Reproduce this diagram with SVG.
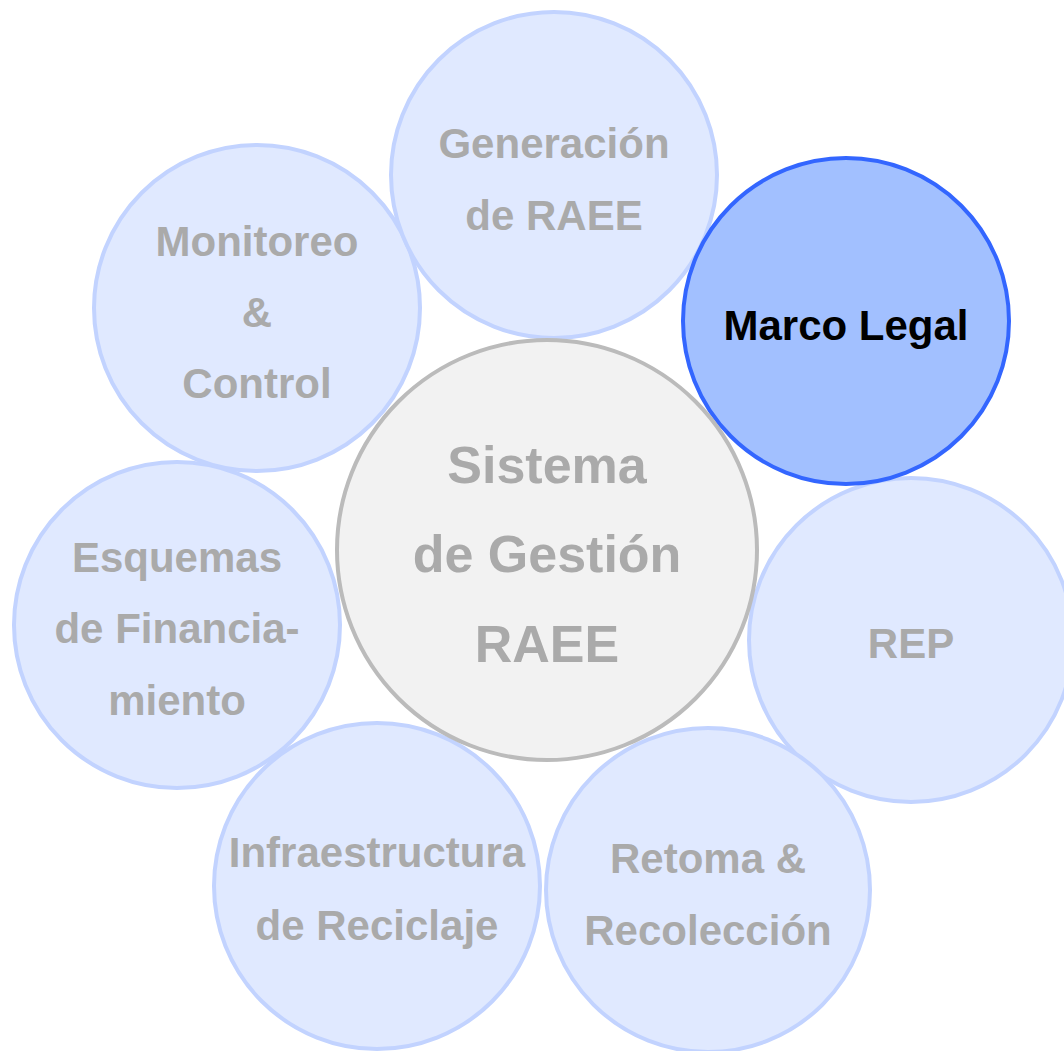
<svg xmlns="http://www.w3.org/2000/svg" width="1064" height="1051" viewBox="0 0 1064 1051">
<style>
.sat{fill:#E0E9FF;stroke:#C2D3FF;stroke-width:4}
.hl{fill:#A2C0FF;stroke:#3366FF;stroke-width:4}
.core{fill:#F2F2F2;stroke:#BBBBBB;stroke-width:4}
text{font-family:"Liberation Sans",Arial,sans-serif;font-weight:bold;text-anchor:middle}
.t{fill:#AAAAAA;font-size:42px}
.th{fill:#000000;font-size:42px}
.tc{fill:#AAAAAA;font-size:52px}
</style>
<rect width="1064" height="1051" fill="#FFFFFF"/>
<g id="connectors"></g>
<g id="rep"><circle class="sat" cx="911" cy="640" r="162"/><text class="t" x="911" y="658">REP</text></g>
<g id="retoma"><circle class="sat" cx="708" cy="890" r="162"/><text class="t" x="708" y="873">Retoma &amp;</text><text class="t" x="708" y="945">Recolección</text></g>
<g id="infraestructura"><circle class="sat" cx="377" cy="886" r="163"/><text class="t" x="377" y="867">Infraestructura</text><text class="t" x="377" y="940">de Reciclaje</text></g>
<g id="esquemas"><circle class="sat" cx="177" cy="625" r="163"/><text class="t" x="177" y="572">Esquemas</text><text class="t" x="177" y="643">de Financia-</text><text class="t" x="177" y="715">miento</text></g>
<g id="monitoreo"><circle class="sat" cx="257" cy="308" r="163"/><text class="t" x="257" y="256">Monitoreo</text><text class="t" x="257" y="327">&amp;</text><text class="t" x="257" y="398">Control</text></g>
<g id="generacion"><circle class="sat" cx="554" cy="175" r="163"/><text class="t" x="554" y="158">Generación</text><text class="t" x="554" y="230">de RAEE</text></g>
<g id="marco-legal"><circle class="hl" cx="846" cy="321" r="163"/><text class="th" x="846" y="340">Marco Legal</text></g>
<g id="sistema"><circle class="core" cx="547" cy="550" r="210"/><text class="tc" x="547" y="483">Sistema</text><text class="tc" x="547" y="572">de Gestión</text><text class="tc" x="547" y="662">RAEE</text></g>
</svg>
